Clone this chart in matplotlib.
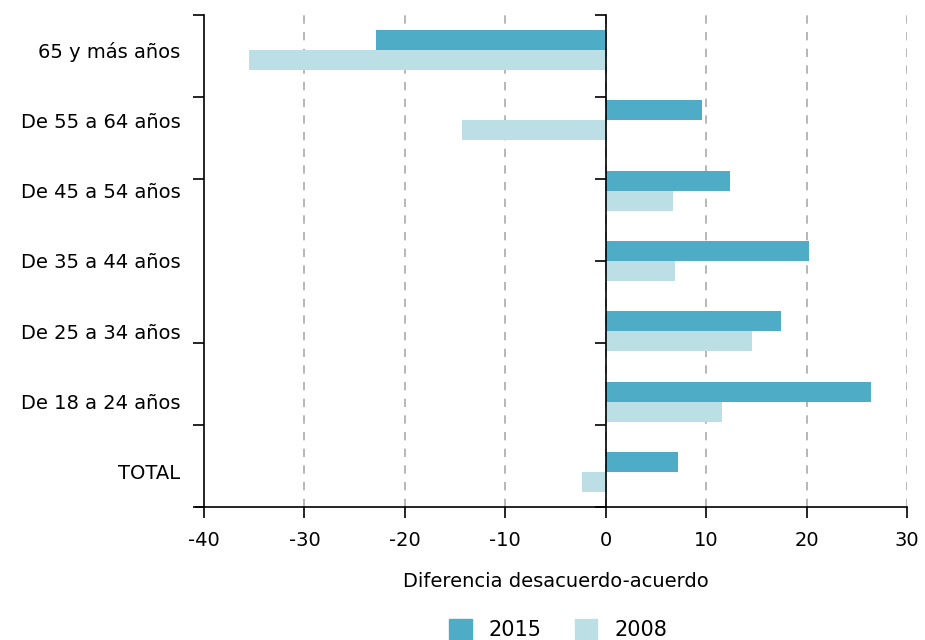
import numpy as np
import matplotlib
matplotlib.use("Agg")
import matplotlib.pyplot as plt
from matplotlib.patches import Patch

plt.rcParams['font.family'] = ['DejaVu Sans']

# categories from bottom to top
categories = ['TOTAL', 'De 18 a 24 años', 'De 25 a 34 años', 'De 35 a 44 años',
              'De 45 a 54 años', 'De 55 a 64 años', '65 y más años']
values_2015 = [7.2, 26.4, 17.5, 20.2, 12.4, 9.6, -22.9]
values_2008 = [-2.4, 11.6, 14.6, 6.9, 6.7, -14.3, -35.5]
series_names = ['2015', '2008']
xticks = [-40, -30, -20, -10, 0, 10, 20, 30]

col_2015 = '#4FACC6'
col_2008 = '#BCDEE5'

fig = plt.figure(figsize=(9.25, 6.4), dpi=100)
ax = fig.add_axes([0.2205, 0.2078, 0.76, 0.7688])

y = np.arange(len(categories))
h = 0.285
ax.barh(y + h / 2, values_2015, height=h, color=col_2015, zorder=3)
ax.barh(y - h / 2, values_2008, height=h, color=col_2008, zorder=3)

ax.set_xlim(-40, 30)
ax.set_ylim(-0.5, len(categories) - 0.5)
ax.set_xticks(xticks)
ax.set_xticklabels([str(t) for t in xticks], fontsize=14)
ax.set_yticks(y)
ax.set_yticklabels(categories, fontsize=14)
ax.tick_params(axis='y', which='major', length=0, pad=17)
boundaries = np.linspace(-0.5, len(categories) - 0.5, 7)
ax.set_yticks(boundaries, minor=True)
ax.tick_params(axis='y', which='minor', length=8, width=1.2, direction='out')
ax.tick_params(axis='x', length=8, width=1.2, direction='out', pad=9)

for x in xticks[1:]:
    ax.axvline(x, color='#aaaaaa', linestyle=(0, (5, 5)), linewidth=1.2, zorder=1)

ax.spines['top'].set_visible(False)
ax.spines['right'].set_visible(False)
ax.spines['left'].set_linewidth(1.2)
ax.spines['bottom'].set_linewidth(1.2)
ax.spines['bottom'].set_bounds(-40.8, 30)

# zero axis with its own ticks, pointing left
zero_pos = (0 - xticks[0]) / (xticks[-1] - xticks[0])
sec = ax.secondary_yaxis(zero_pos)
sec.set_yticks(boundaries)
sec.set_yticklabels([])
sec.tick_params(length=8, width=1.2, direction='in')
for sp in sec.spines.values():
    sp.set_linewidth(1.2)
sec.set_zorder(4)

ax.set_xlabel('Diferencia desacuerdo-acuerdo', fontsize=14, labelpad=16)

handles = [Patch(color=col_2015), Patch(color=col_2008)]
fig.legend(handles, series_names, loc='lower center', bbox_to_anchor=(0.603, -0.03),
           ncol=2, frameon=False, fontsize=15, handlelength=1.1, handleheight=1.1,
           columnspacing=1.6, handletextpad=0.8)

fig.savefig('out.png', dpi=100)
